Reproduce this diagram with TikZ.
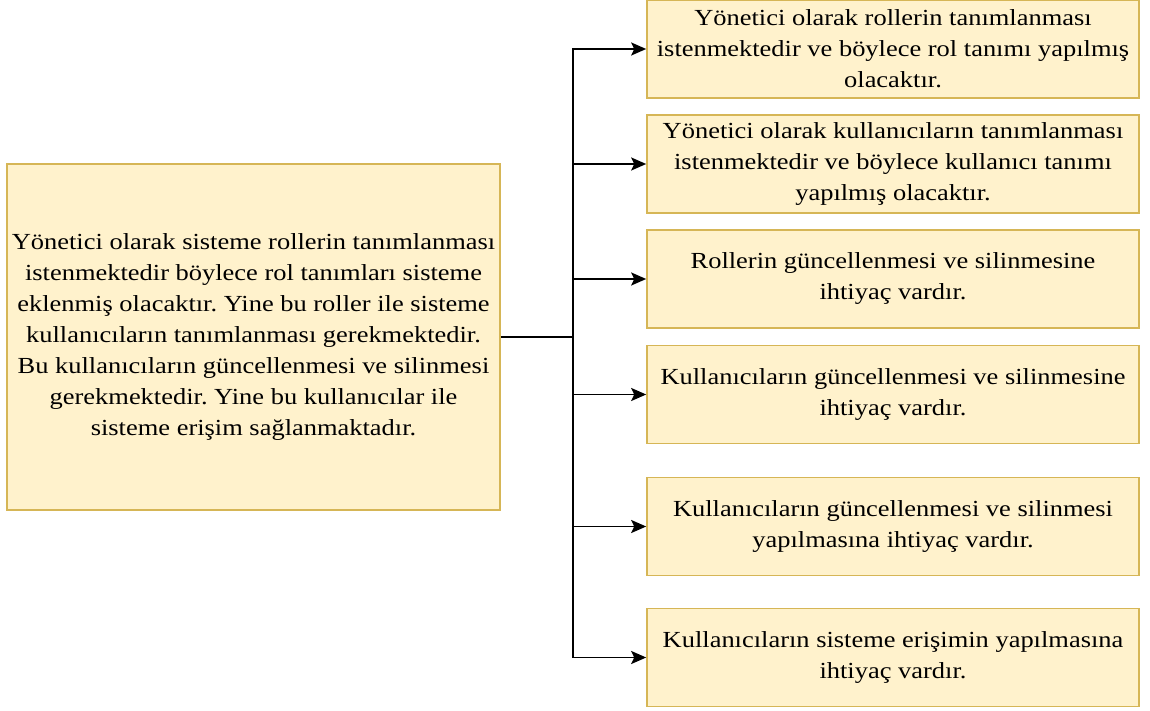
\documentclass[tikz,border=0pt]{standalone}
\usepackage{fontspec}
\setmainfont{Liberation Serif}[FakeStretch=1.15]
\usetikzlibrary{arrows.meta}
\definecolor{boxfill}{HTML}{FFF2CC}
\definecolor{boxline}{HTML}{D6B656}
\frenchspacing
\begin{document}
\begin{tikzpicture}[x=1pt,y=-1pt,
  card/.style={draw=boxline, fill=boxfill, line width=1.6pt, align=center,
    font=\fontsize{23}{31}\selectfont, inner sep=0pt, anchor=center},
  goal/.style={card, minimum width=492pt, minimum height=98pt},
  link/.style={line width=1.8pt, draw=black},
  arrowlink/.style={link, -{Stealth[length=15pt,width=13pt,inset=3pt]}}]
\useasboundingbox (0,0) rectangle (1150,711);

% main description box
\node[card, minimum width=493pt, minimum height=346pt] (main) at (253.5,337)
  {Yönetici olarak sisteme rollerin tanımlanması\\
   istenmektedir böylece rol tanımları sisteme\\
   eklenmiş olacaktır. Yine bu roller ile sisteme\\
   kullanıcıların tanımlanması gerekmektedir.\\
   Bu kullanıcıların güncellenmesi ve silinmesi\\
   gerekmektedir. Yine bu kullanıcılar ile\\
   sisteme erişim sağlanmaktadır.};

% requirement boxes
\node[goal] (r1) at (893,49)
  {Yönetici olarak rollerin tanımlanması\\
   istenmektedir ve böylece rol tanımı yapılmış\\
   olacaktır.};
\node[goal] (r2) at (893,164)
  {Yönetici olarak kullanıcıların tanımlanması\\
   istenmektedir ve böylece kullanıcı tanımı\\
   yapılmış olacaktır.};
\node[goal] (r3) at (893,279)
  {Rollerin güncellenmesi ve silinmesine\\
   ihtiyaç vardır.};
\node[goal] (r4) at (893,394.5)
  {Kullanıcıların güncellenmesi ve silinmesine\\
   ihtiyaç vardır.};
\node[goal] (r5) at (893,526.5)
  {Kullanıcıların güncellenmesi ve silinmesi\\
   yapılmasına ihtiyaç vardır.};
\node[goal] (r6) at (893,657.5)
  {Kullanıcıların sisteme erişimin yapılmasına\\
   ihtiyaç vardır.};

% branching connectors
\coordinate (hub) at (573,337);
\draw[link] (main.east) -- (hub);
\foreach \t in {r1,r2,r3,r4,r5,r6}
  \draw[arrowlink] (hub) |- (\t.west);
\end{tikzpicture}
\end{document}
